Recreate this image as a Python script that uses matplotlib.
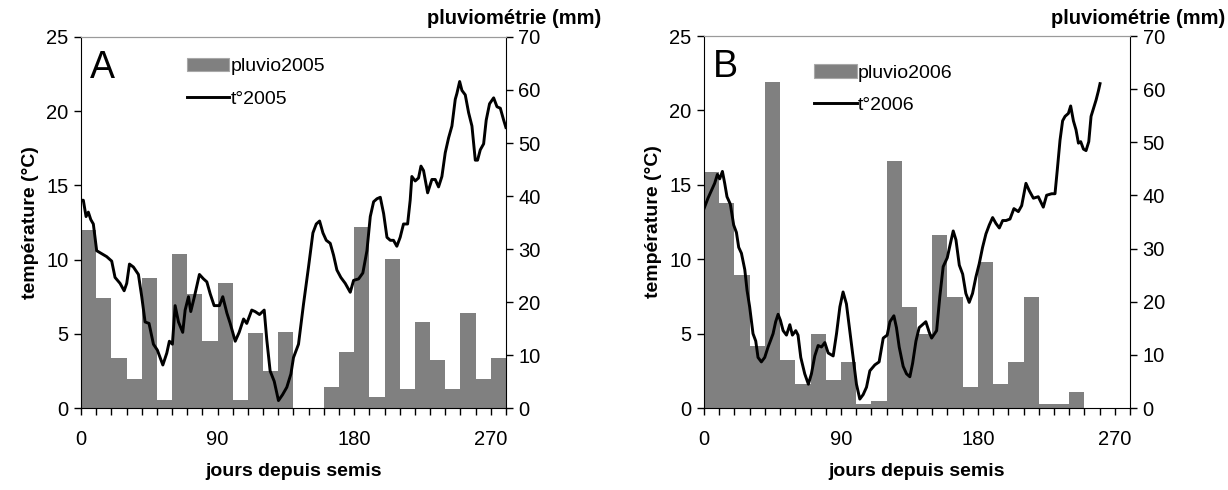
import numpy as np
import matplotlib
matplotlib.use("Agg")
import matplotlib.pyplot as plt
from matplotlib.patches import Patch
from matplotlib.lines import Line2D

plt.rcParams["font.family"] = ["Liberation Sans", "DejaVu Sans"]

# --- rainfall per 10-day period (mm) ---
bin_start = np.arange(0, 280, 10)
pluvio2005 = [33.6, 20.7, 9.5, 5.4, 24.6, 1.6, 29.0, 21.6, 12.6, 23.6,
              1.6, 14.1, 7.0, 14.4, 0.0, 0.0, 4.0, 10.5, 34.1, 2.1,
              28.1, 3.6, 16.2, 9.0, 3.6, 18.0, 5.4, 9.5]
pluvio2006 = [44.4, 38.5, 25.0, 11.6, 61.4, 9.0, 4.5, 14.0, 5.3, 8.7,
              0.7, 1.4, 46.5, 19.1, 14.0, 32.5, 20.9, 4.0, 27.4, 4.5,
              8.7, 20.9, 0.8, 0.8, 3.0, 0.0, 0.0, 0.0]

# --- temperature (°C), days since sowing ---
days2005 = [0, 1.5, 3.3, 4.8, 6.4, 8.1, 10.3, 13.6, 16.9, 20.2, 22.4, 25.7,
            28.4, 30.1, 31.9, 34.5, 37.8, 40.0, 42.2, 44.8, 47.7, 50.3, 53.9,
            56.5, 58.2, 60.2, 62.0, 64.2, 67.0, 68.6, 70.8, 72.3, 74.7, 78.0,
            80.7, 82.9, 85.1, 87.7, 91.2, 93.4, 96.1, 98.3, 101.6, 104.2,
            107.1, 109.2, 112.5, 114.7, 117.6, 120.7, 122.4, 124.6, 127.3,
            130.1, 132.8, 135.6, 138.3, 140.0, 143.3, 146.6, 149.9, 152.8,
            155.0, 157.2, 159.4, 161.6, 164.2, 166.4, 168.6, 171.2, 174.1,
            177.4, 179.6, 182.9, 185.7, 188.4, 190.6, 192.8, 195.0, 197.2,
            199.4, 201.6, 203.8, 205.9, 208.1, 210.3, 212.5, 215.2, 216.9,
            218.0, 220.2, 222.4, 224.0, 225.7, 228.4, 231.2, 233.4, 235.6,
            237.8, 240.0, 242.2, 244.4, 246.6, 247.7, 249.5, 251.0, 253.2,
            255.4, 257.6, 259.8, 261.3, 263.1, 265.3, 267.0, 269.2, 271.9,
            274.1, 276.3, 278.5, 280.0]
temp2005 = [14.0, 14.0, 12.9, 13.2, 12.7, 12.4, 10.6, 10.4, 10.2, 9.9, 8.8, 8.4,
            7.9, 8.4, 9.7, 9.5, 9.0, 7.5, 5.8, 5.7, 4.3, 3.9, 2.9,
            3.7, 4.5, 4.3, 6.9, 5.8, 5.1, 6.6, 7.5, 6.5, 7.5, 9.0,
            8.7, 8.5, 7.7, 6.9, 6.9, 7.5, 6.4, 5.7, 4.5, 5.1,
            6.0, 5.7, 6.6, 6.5, 6.3, 6.6, 4.6, 2.5, 1.8,
            0.5, 0.9, 1.4, 2.3, 3.4, 4.3, 7.0, 9.5, 11.8,
            12.4, 12.6, 11.8, 11.3, 11.1, 10.3, 9.3, 8.8, 8.4,
            7.8, 8.6, 8.7, 9.1, 10.6, 12.9, 13.9, 14.1, 14.2,
            13.1, 11.5, 11.3, 11.3, 10.9, 11.5, 12.4, 12.4, 14.0,
            15.6, 15.3, 15.5, 16.3, 16.0, 14.5, 15.4, 15.4, 14.9,
            15.6, 17.2, 18.2, 19.0, 20.8, 21.2, 22.0, 21.4, 21.1,
            19.9, 19.0, 16.7, 16.7, 17.4, 17.8, 19.4, 20.5, 20.9,
            20.3, 20.2, 19.4, 18.9]

days2006 = [0, 2.6, 4.8, 7.0, 8.8, 10.3, 12.1, 13.6, 15.1, 17.3, 19.5, 21.3,
            22.8, 24.6, 26.8, 28.3, 30.0, 32.2, 34.0, 35.5, 37.7, 39.9, 42.1,
            43.6, 45.4, 47.1, 48.7, 50.2, 52.0, 54.2, 56.4, 58.1, 60.3, 61.8,
            63.6, 66.2, 68.6, 70.6, 72.8, 75.0, 77.2, 79.4, 81.6, 84.9, 87.1,
            89.3, 91.4, 93.6, 95.8, 98.0, 100.2, 102.4, 104.6, 106.8, 109.0,
            112.3, 115.1, 117.8, 120.4, 122.2, 124.8, 126.5, 128.3, 130.9,
            133.1, 135.3, 137.1, 139.3, 141.4, 143.6, 145.8, 148.0, 149.6,
            152.9, 155.0, 157.2, 159.9, 161.6, 163.8, 165.6, 167.8, 170.0,
            172.1, 174.3, 176.5, 178.7, 180.9, 183.1, 185.3, 187.5, 189.7,
            191.9, 194.1, 196.3, 198.5, 201.1, 203.7, 206.6, 208.8, 211.6,
            213.8, 216.5, 219.7, 223.0, 225.2, 228.5, 230.7, 232.2, 234.0,
            235.7, 237.3, 239.5, 241.0, 242.8, 244.5, 246.1, 247.6, 249.4,
            251.1, 252.9, 254.4, 255.9, 257.7, 259.2, 260.3]
temp2006 = [13.4, 14.1, 14.6, 15.1, 15.7, 15.4, 15.9, 15.1, 14.2, 13.7, 12.3, 11.8,
            10.8, 10.4, 9.3, 7.9, 6.8, 5.0, 4.5, 3.4, 3.1, 3.4, 4.1,
            4.5, 5.0, 5.8, 6.3, 5.9, 5.2, 4.9, 5.6, 4.9, 5.2, 4.9,
            3.4, 2.3, 1.6, 2.3, 3.5, 4.2, 4.1, 4.4, 3.7, 3.5, 5.0,
            6.8, 7.8, 7.0, 5.2, 3.4, 1.6, 0.6, 0.9, 1.4, 2.5,
            2.9, 3.1, 4.7, 4.9, 5.8, 6.2, 5.4, 4.1, 2.8,
            2.3, 2.1, 3.0, 4.5, 5.4, 5.6, 5.8, 5.1, 4.7,
            5.2, 7.5, 9.5, 10.1, 10.9, 11.9, 11.3, 9.6, 9.0,
            7.7, 7.1, 7.7, 8.8, 9.7, 10.8, 11.7, 12.3, 12.8,
            12.4, 12.1, 12.6, 12.6, 12.7, 13.4, 13.2, 13.6, 15.1,
            14.6, 14.1, 14.2, 13.5, 14.3, 14.4, 14.4, 16.0, 18.0,
            19.3, 19.6, 19.8, 20.3, 19.3, 18.7, 17.8, 17.9, 17.4,
            17.3, 17.9, 19.6, 20.1, 20.7, 21.3, 21.8]

day_ticks = [0, 90, 180, 270]

BAR_COLOR = "#808080"
TICK_FS = 14.5
LABEL_FS = 14
LEGEND_FS = 14


def draw_panel(rect, letter, days, temp, rain, year, legend_anchor):
    ax = fig.add_axes(rect)
    ax2 = ax.twinx()

    ax2.bar(bin_start, rain, width=10, align="edge", color=BAR_COLOR,
            linewidth=0)
    ax.plot(days, temp, color="black", lw=2.1)

    # line above bars
    ax.set_zorder(ax2.get_zorder() + 1)
    ax.patch.set_visible(False)

    ax.set_xlim(0, 280)
    ax.set_ylim(0, 25)
    ax2.set_ylim(0, 70)
    ax.set_yticks(range(0, 26, 5))
    ax2.set_yticks(range(0, 71, 10))
    ax.set_xticks(day_ticks)
    ax.set_xticks(range(0, 281, 10), minor=True)

    for a in (ax, ax2):
        a.tick_params(which="both", direction="out", length=5, width=1,
                      labelsize=TICK_FS, pad=4)
        a.spines["top"].set_color("#9a9a9a")
    ax.tick_params(axis="x", pad=11)
    ax.spines["right"].set_visible(False)
    ax2.spines["left"].set_visible(False)
    ax2.spines["bottom"].set_visible(False)

    ax.set_ylabel("température (°C)", fontsize=LABEL_FS, fontweight="bold",
                  labelpad=5)
    ax.set_xlabel("jours depuis semis", fontsize=LABEL_FS, fontweight="bold",
                  labelpad=10)

    ax.text(0.02, 0.965, letter, transform=ax.transAxes, fontsize=27,
            va="top", ha="left")

    handles = [Patch(facecolor=BAR_COLOR, edgecolor="#a8a8a8", lw=0.8),
               Line2D([], [], color="black", lw=2.1)]
    ax.legend(handles, [f"pluvio{year}", f"t°{year}"], loc="upper left",
              bbox_to_anchor=legend_anchor, frameon=False, fontsize=LEGEND_FS,
              handlelength=2.2, handleheight=0.7, handletextpad=0.05,
              labelspacing=0.75, borderaxespad=0)
    return ax, ax2


fig = plt.figure(figsize=(12.28, 4.9), dpi=100)

draw_panel([0.066, 0.1673, 0.346, 0.7572], "A", days2005, temp2005,
           pluvio2005, 2005, (0.23, 0.965))
draw_panel([0.5733, 0.1673, 0.3469, 0.7592], "B", days2006, temp2006,
           pluvio2006, 2006, (0.24, 0.945))

fig.text(0.49, 0.963, "pluviométrie (mm)", ha="right", va="center",
         fontsize=14.5, fontweight="bold")
fig.text(0.998, 0.963, "pluviométrie (mm)", ha="right", va="center",
         fontsize=14.5, fontweight="bold")

fig.savefig("out.png", dpi=100)
